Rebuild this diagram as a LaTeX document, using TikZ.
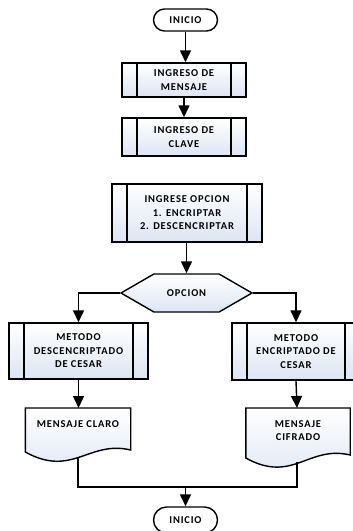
\documentclass[tikz,border=0pt]{standalone}
\usepackage{fontspec}
\newfontfamily\boxfont[LetterSpace=8]{Carlito}
\usetikzlibrary{arrows.meta}
\usetikzlibrary{positioning}
\usetikzlibrary{shapes.symbols}
\usetikzlibrary{backgrounds}

\definecolor{boxblue}{RGB}{221,229,243}

\tikzset{
  texto/.style={font=\boxfont\bfseries\fontsize{10.5}{13.5}\selectfont, align=center, text=black},
  terminal/.style={texto, draw, line width=1.4pt, rounded corners=11pt, fill=white,
    minimum width=64pt, minimum height=22pt, inner sep=0pt},
  proceso/.style={texto, draw, line width=1.4pt, top color=white, bottom color=boxblue,
    inner sep=0pt,
    path picture={
      \draw[line width=1.4pt] ([xshift=15pt]path picture bounding box.north west)
        -- ([xshift=15pt]path picture bounding box.south west);
      \draw[line width=1.4pt] ([xshift=-15pt]path picture bounding box.north east)
        -- ([xshift=-15pt]path picture bounding box.south east);
    }},
  decision/.style={texto, draw, line width=1.4pt, top color=white, bottom color=boxblue,
    signal, signal to=west and east, signal pointer angle=60,
    minimum width=131pt, minimum height=38pt, inner sep=0pt},
  documento/.style={texto, anchor=north, inner ysep=12pt, inner xsep=0pt},
  docu/.style={draw, line width=1.4pt, top color=white, bottom color=boxblue},
  linea/.style={line width=1.4pt},
  flecha/.style={line width=1.4pt, -{Triangle[length=12pt,width=11pt]}}
}

\begin{document}
\begin{tikzpicture}[x=1pt, y=-1pt]
  \useasboundingbox (0,0) rectangle (353,531);
  \clip (0,0) rectangle (353,531);

  % inicio y entradas
  \node[terminal] (ini) at (185.5,20) {INICIO};
  \node[proceso, minimum width=124pt, minimum height=34pt] (msg) at (184,80) {INGRESO DE\\MENSAJE};
  \node[proceso, minimum width=124pt, minimum height=38pt] (clave) at (184,137) {INGRESO DE\\CLAVE};
  \node[proceso, minimum width=150pt, minimum height=58pt] (menu) at (187,213)
    {INGRESE OPCION\\1. ENCRIPTAR\\2. DESCENCRIPTAR};
  \node[decision] (opc) at (186.5,293) {OPCION};

  % ramas
  \node[proceso, minimum width=139pt, minimum height=56pt] (des) at (78.5,351)
    {METODO\\DESCENCRIPTADO\\DE CESAR};
  \node[proceso, minimum width=128pt, minimum height=57pt] (enc) at (296,351.5)
    {METODO\\ENCRIPTADO DE\\CESAR};
  \node[documento, minimum width=105pt] (claro) at (78,408) {MENSAJE CLARO};
  \node[documento, minimum width=104pt] (cifrado) at (298,408) {MENSAJE\\CIFRADO};
  \node[terminal, minimum height=26pt, rounded corners=13pt] (fin) at (185.5,520) {INICIO};

  \begin{scope}[on background layer]
    \draw[docu] (claro.north west) -- (claro.north east) -- ([yshift=-42pt]claro.north east)
      .. controls +(-42,-10) and +(47,26) .. ([yshift=-44pt]claro.north west) -- cycle;
    \draw[docu] (cifrado.north west) -- (cifrado.north east) -- ([yshift=-47pt]cifrado.north east)
      .. controls +(-42,-10) and +(47,26) .. ([yshift=-50pt]cifrado.north west) -- cycle;
  \end{scope}

  \coordinate (clarobot) at (78,457);
  \coordinate (cifbot) at (297,462);
  \coordinate (union) at (185.5,487);

  % conectores
  \draw[flecha] (ini) -- (ini |- msg.north);
  \draw[flecha] (msg) -- (msg |- clave.north);
  \draw[flecha] (menu.south -| opc) -- (opc.north);
  \draw[flecha] (opc.west) -| (des.north);
  \draw[flecha] (opc.east) -| (enc.north);
  \draw[flecha] (des) -- (des |- claro.north);
  \draw[flecha] (enc.south) -- (cifrado.north -| cifbot);
  \draw[linea] (clarobot) |- (union) -| (cifbot);
  \draw[flecha] (union) -- (fin.north);
\end{tikzpicture}
\end{document}
